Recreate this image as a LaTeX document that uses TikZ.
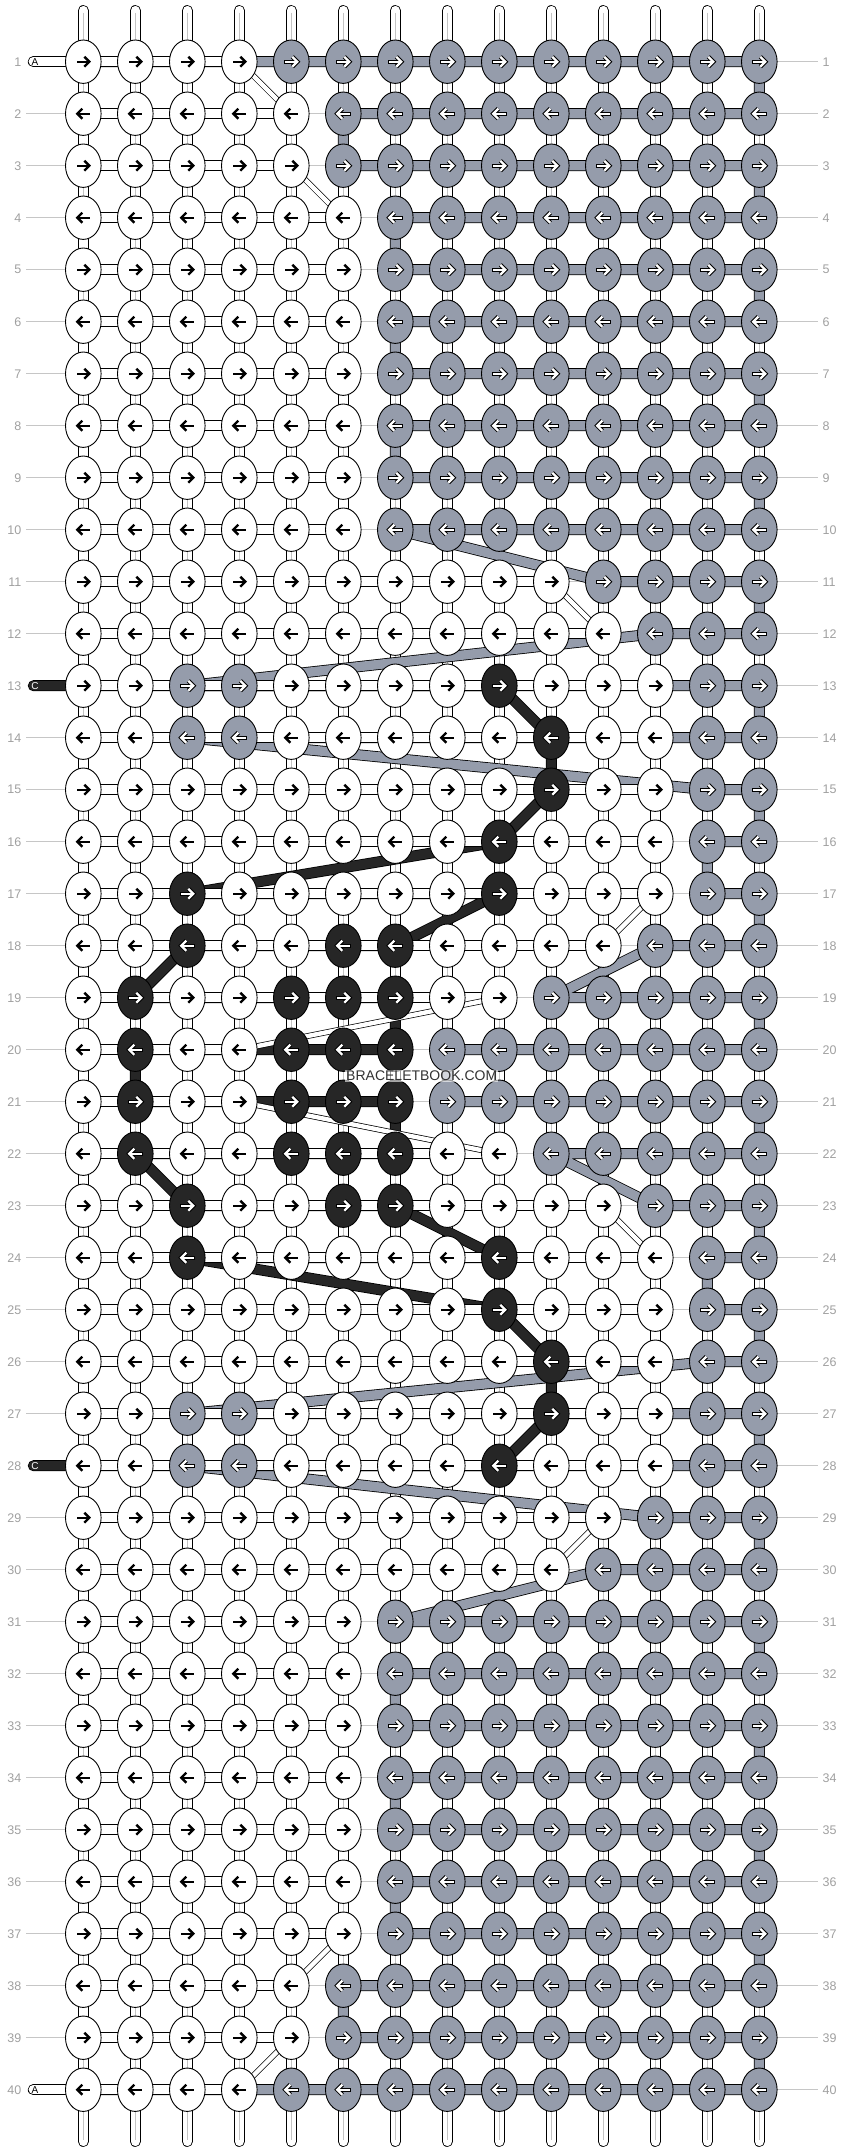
\documentclass[tikz,border=0pt]{standalone}
\usepackage{fontspec}
\setmainfont{Liberation Sans}
\usetikzlibrary{shapes.geometric}
\definecolor{kgray}{HTML}{959CAB}
\definecolor{kblack}{HTML}{262626}
\definecolor{lblc}{HTML}{A0A0A0}
\definecolor{guidec}{HTML}{C6C6C6}
\definecolor{strandc}{HTML}{C4C4C4}
\def\letW{W}
\def\letG{G}
\def\letB{B}
\tikzset{
  knot/.style={ellipse, draw=black, line width=0.9pt, minimum width=35.6pt, minimum height=43.4pt, inner sep=0pt, outer sep=0pt},
  tthread/.style={line width=0.8pt, double distance=9.4pt, line join=round, line cap=round, draw=black},
  gthread/.style={tthread, double=kgray},
  bthread/.style={tthread, double=kblack},
  wthread/.style={tthread, double=white},
  wthin/.style={line width=0.7pt, double distance=4.4pt, draw=black, double=white},
  lbl/.style={text=lblc, font=\fontsize{12.5}{13}\selectfont, inner sep=0pt},
  guide/.style={draw=guidec, line width=0.9pt},
}
\begin{document}
\begin{tikzpicture}[x=1pt,y=-1pt]
\useasboundingbox (0,0) rectangle (844,2152);
% positions
\foreach \r in {1,...,40}{\foreach \c in {1,...,14}{%
  \coordinate (p-\r-\c) at ({83.3+52*(\c-1)},{61.7+52*(\r-1)});}}
\coordinate (cap-1) at (33.3,61.7);
\coordinate (cap-13) at (33.3,685.7);
\coordinate (cap-28) at (33.3,1465.7);
\coordinate (cap-40) at (33.3,2089.7);
% row labels
\foreach \r in {1,...,40}{
  \node[lbl,anchor=east] (ll-\r) at (21.5,{61.7+52*(\r-1)}) {\r};
  \node[lbl,anchor=west] (lr-\r) at (822.5,{61.7+52*(\r-1)}) {\r};
}
% guide lines
\foreach \r in {2,...,12,14,15,...,27,29,30,...,39}
  \draw[guide] ([xshift=4.5pt]ll-\r.east) -- ([xshift=-4.5pt]lr-\r.west);
\foreach \r in {1,13,28,40}
  \draw[guide] (p-\r-1) -- ([xshift=-4.5pt]lr-\r.west);
% vertical strands
\foreach \c in {1,...,14}{
  \coordinate (st-\c) at ({83.3+52*(\c-1)},10.5);
  \coordinate (sb-\c) at ({83.3+52*(\c-1)},2141.5);
  \draw[line width=10.8pt,line cap=round] (st-\c) -- (sb-\c);
  \draw[white,line width=9.2pt,line cap=round] (st-\c) -- (sb-\c);
  \draw[strandc,line width=1.3pt] ([yshift=-2pt]st-\c) -- ([yshift=2pt]sb-\c);
}
% gray thread
\draw[gthread] (p-1-1) -- (p-1-14) -- (p-2-14) -- (p-2-6) -- (p-3-6) -- (p-3-14) -- (p-4-14) -- (p-4-7)
 -- (p-5-7) -- (p-5-14) -- (p-6-14) -- (p-6-7) -- (p-7-7) -- (p-7-14) -- (p-8-14) -- (p-8-7)
 -- (p-9-7) -- (p-9-14) -- (p-10-14) -- (p-10-7) -- (p-11-11) -- (p-11-14) -- (p-12-14) -- (p-12-12)
 -- (p-13-3) -- (p-13-14) -- (p-14-14) -- (p-14-3) -- (p-15-13) -- (p-15-14) -- (p-16-14) -- (p-16-13)
 -- (p-17-13) -- (p-17-14) -- (p-18-14) -- (p-18-12) -- (p-19-10) -- (p-19-14) -- (p-20-14) -- (p-20-8)
 -- (p-21-8) -- (p-21-14) -- (p-22-14) -- (p-22-10) -- (p-23-12) -- (p-23-14) -- (p-24-14) -- (p-24-13)
 -- (p-25-13) -- (p-25-14) -- (p-26-14) -- (p-26-13) -- (p-27-3) -- (p-27-14) -- (p-28-14) -- (p-28-3)
 -- (p-29-12) -- (p-29-14) -- (p-30-14) -- (p-30-11) -- (p-31-7) -- (p-31-14) -- (p-32-14) -- (p-32-7)
 -- (p-33-7) -- (p-33-14) -- (p-34-14) -- (p-34-7) -- (p-35-7) -- (p-35-14) -- (p-36-14) -- (p-36-7)
 -- (p-37-7) -- (p-37-14) -- (p-38-14) -- (p-38-6) -- (p-39-6) -- (p-39-14) -- (p-40-14) -- (p-40-1);
% black thread
\draw[bthread] (cap-13) -- (p-13-9) -- (p-14-10) -- (p-15-10) -- (p-16-9) -- (p-17-3) -- (p-17-9)
 -- (p-18-7) -- (p-18-3) -- (p-19-2) -- (p-19-7) -- (p-20-7) -- (p-20-2) -- (p-21-2) -- (p-21-7)
 -- (p-22-7) -- (p-22-2) -- (p-23-3) -- (p-23-7) -- (p-24-9) -- (p-24-3) -- (p-25-9) -- (p-26-10)
 -- (p-27-10) -- (p-28-9) -- (cap-28);
% white thread
\draw[wthread] (cap-1) -- (p-1-4);
\draw[wthread] (p-2-5) -- (p-2-1) -- (p-3-1) -- (p-3-5);
\draw[wthread] (p-4-6) -- (p-4-1) -- (p-5-1) -- (p-5-6) -- (p-6-6) -- (p-6-1) -- (p-7-1) -- (p-7-6)
 -- (p-8-6) -- (p-8-1) -- (p-9-1) -- (p-9-6) -- (p-10-6) -- (p-10-1) -- (p-11-1) -- (p-11-10);
\draw[wthread] (p-12-11) -- (p-12-1) -- (p-13-1) -- (p-13-12) -- (p-14-12) -- (p-14-1) -- (p-15-1)
 -- (p-15-12) -- (p-16-12) -- (p-16-1) -- (p-17-1) -- (p-17-12);
\draw[wthread] (p-18-11) -- (p-18-1) -- (p-19-1) -- (p-19-9);
\draw[wthread] (p-20-4) -- (p-20-1) -- (p-21-1) -- (p-21-4);
\draw[wthread] (p-22-9) -- (p-22-1) -- (p-23-1) -- (p-23-11);
\draw[wthread] (p-24-12) -- (p-24-1) -- (p-25-1) -- (p-25-12) -- (p-26-12) -- (p-26-1) -- (p-27-1)
 -- (p-27-12) -- (p-28-12) -- (p-28-1) -- (p-29-1) -- (p-29-11);
\draw[wthread] (p-30-10) -- (p-30-1) -- (p-31-1) -- (p-31-6) -- (p-32-6) -- (p-32-1) -- (p-33-1)
 -- (p-33-6) -- (p-34-6) -- (p-34-1) -- (p-35-1) -- (p-35-6) -- (p-36-6) -- (p-36-1) -- (p-37-1) -- (p-37-6);
\draw[wthread] (p-38-5) -- (p-38-1) -- (p-39-1) -- (p-39-5);
\draw[wthread] (p-40-4) -- (p-40-1) -- (cap-40);
\foreach \a/\b in {1-4/2-5,3-5/4-6,11-10/12-11,17-12/18-11,19-9/20-4,21-4/22-9,23-11/24-12,29-11/30-10,37-6/38-5,39-5/40-4}
  \draw[wthin] (p-\a) -- (p-\b);
% knots
\foreach \r/\cl in {
1/{W,W,W,W,G,G,G,G,G,G,G,G,G,G},
2/{W,W,W,W,W,G,G,G,G,G,G,G,G,G},
3/{W,W,W,W,W,G,G,G,G,G,G,G,G,G},
4/{W,W,W,W,W,W,G,G,G,G,G,G,G,G},
5/{W,W,W,W,W,W,G,G,G,G,G,G,G,G},
6/{W,W,W,W,W,W,G,G,G,G,G,G,G,G},
7/{W,W,W,W,W,W,G,G,G,G,G,G,G,G},
8/{W,W,W,W,W,W,G,G,G,G,G,G,G,G},
9/{W,W,W,W,W,W,G,G,G,G,G,G,G,G},
10/{W,W,W,W,W,W,G,G,G,G,G,G,G,G},
11/{W,W,W,W,W,W,W,W,W,W,G,G,G,G},
12/{W,W,W,W,W,W,W,W,W,W,W,G,G,G},
13/{W,W,G,G,W,W,W,W,B,W,W,W,G,G},
14/{W,W,G,G,W,W,W,W,W,B,W,W,G,G},
15/{W,W,W,W,W,W,W,W,W,B,W,W,G,G},
16/{W,W,W,W,W,W,W,W,B,W,W,W,G,G},
17/{W,W,B,W,W,W,W,W,B,W,W,W,G,G},
18/{W,W,B,W,W,B,B,W,W,W,W,G,G,G},
19/{W,B,W,W,B,B,B,W,W,G,G,G,G,G},
20/{W,B,W,W,B,B,B,G,G,G,G,G,G,G},
21/{W,B,W,W,B,B,B,G,G,G,G,G,G,G},
22/{W,B,W,W,B,B,B,W,W,G,G,G,G,G},
23/{W,W,B,W,W,B,B,W,W,W,W,G,G,G},
24/{W,W,B,W,W,W,W,W,B,W,W,W,G,G},
25/{W,W,W,W,W,W,W,W,B,W,W,W,G,G},
26/{W,W,W,W,W,W,W,W,W,B,W,W,G,G},
27/{W,W,G,G,W,W,W,W,W,B,W,W,G,G},
28/{W,W,G,G,W,W,W,W,B,W,W,W,G,G},
29/{W,W,W,W,W,W,W,W,W,W,W,G,G,G},
30/{W,W,W,W,W,W,W,W,W,W,G,G,G,G},
31/{W,W,W,W,W,W,G,G,G,G,G,G,G,G},
32/{W,W,W,W,W,W,G,G,G,G,G,G,G,G},
33/{W,W,W,W,W,W,G,G,G,G,G,G,G,G},
34/{W,W,W,W,W,W,G,G,G,G,G,G,G,G},
35/{W,W,W,W,W,W,G,G,G,G,G,G,G,G},
36/{W,W,W,W,W,W,G,G,G,G,G,G,G,G},
37/{W,W,W,W,W,W,G,G,G,G,G,G,G,G},
38/{W,W,W,W,W,G,G,G,G,G,G,G,G,G},
39/{W,W,W,W,W,G,G,G,G,G,G,G,G,G},
40/{W,W,W,W,G,G,G,G,G,G,G,G,G,G}}{
  \pgfmathtruncatemacro\odd{mod(\r,2)}
  \ifnum\odd=1 \def\s{1}\else\def\s{-1}\fi
  \foreach \k [count=\c] in \cl {
    \ifx\k\letW\def\fc{white}\fi
    \ifx\k\letG\def\fc{kgray}\fi
    \ifx\k\letB\def\fc{kblack}\fi
    \node[knot, fill=\fc] (k-\r-\c) at (p-\r-\c) {};
    \ifx\k\letW
      \draw[line width=2.4pt] (k-\r-\c.center) ++({-6.2*\s},0) -- ++({12*\s},0);
      \draw[line width=2.4pt] (k-\r-\c.center) ++({1*\s},-5) -- ++({5*\s},5) -- ++({-5*\s},5);
    \else
      \draw[line width=4.3pt] (k-\r-\c.center) ++({-7.2*\s},0) -- ++({13*\s},0);
      \draw[line width=4.3pt] (k-\r-\c.center) ++({1*\s},-5) -- ++({5*\s},5) -- ++({-5*\s},5);
      \draw[white,line width=2.3pt] (k-\r-\c.center) ++({-6.2*\s},0) -- ++({12*\s},0);
      \draw[white,line width=2.3pt] (k-\r-\c.center) ++({1*\s},-5) -- ++({5*\s},5) -- ++({-5*\s},5);
    \fi
  }
}
% capsule letters
\node[inner sep=0pt, font=\fontsize{10}{10}\selectfont] (tA1) at (35,61.7) {A};
\node[inner sep=0pt, font=\fontsize{10}{10}\selectfont] (tA40) at (35,2089.7) {A};
\node[inner sep=0pt, text=white, font=\fontsize{10}{10}\selectfont] (tC13) at (35,685.7) {C};
\node[inner sep=0pt, text=white, font=\fontsize{10}{10}\selectfont] (tC28) at (35,1465.7) {C};
% watermark
\node[fill=white, fill opacity=0.6, text opacity=1, text=black!80, inner sep=1pt, font=\fontsize{14}{14}\selectfont] (wm) at (421.7,1076) {BRACELETBOOK.COM};
\end{tikzpicture}
\end{document}
